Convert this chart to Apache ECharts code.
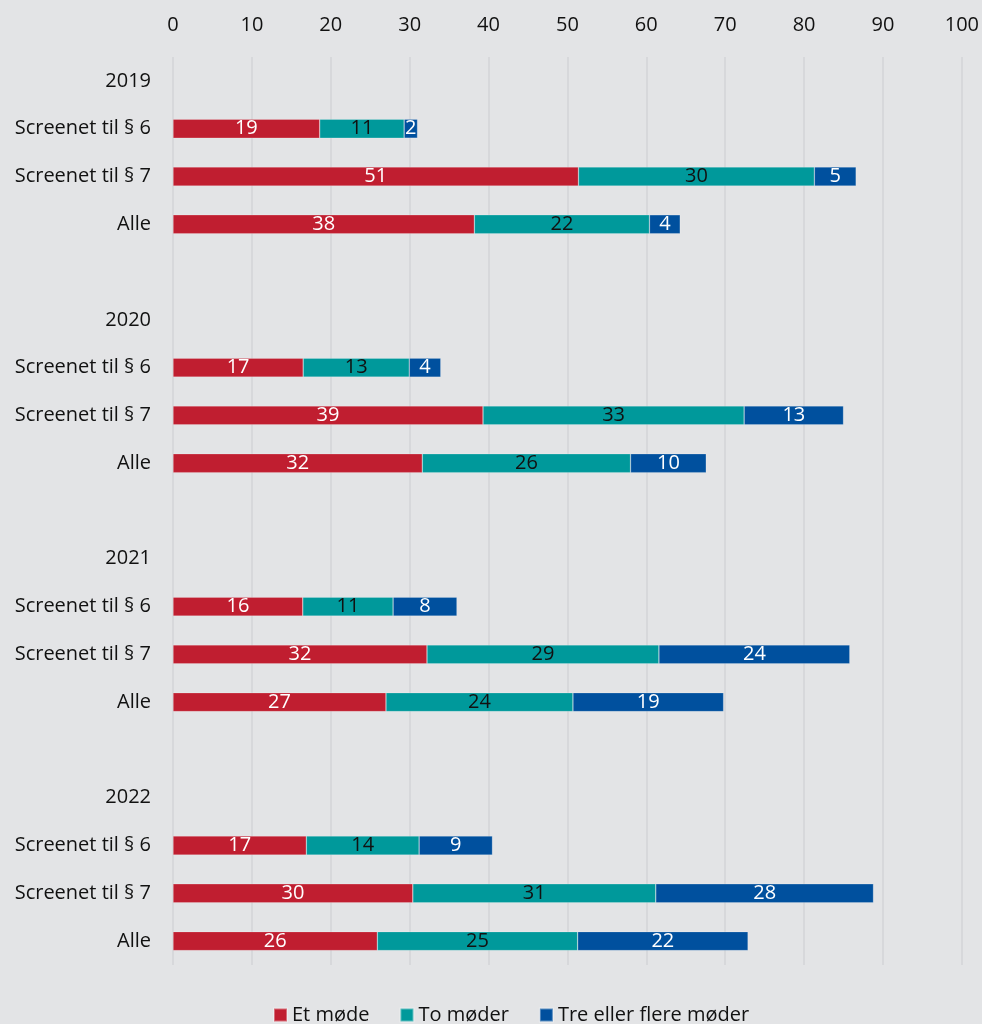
<!DOCTYPE html>
<html>
<head>
<meta charset="utf-8">
<script src="https://cdn.jsdelivr.net/npm/echarts@6/dist/echarts.min.js"></script>
<style>
html,body{margin:0;padding:0;background:#e3e4e6;}
#c{width:982px;height:1024px;}
</style>
</head>
<body>
<div id="c"></div>
<script>
const categories = ['2019','Screenet til § 6','Screenet til § 7','Alle','',
                    '2020','Screenet til § 6','Screenet til § 7','Alle','',
                    '2021','Screenet til § 6','Screenet til § 7','Alle','',
                    '2022','Screenet til § 6','Screenet til § 7','Alle'];
const seriesNames = ['Et møde','To møder','Tre eller flere møder'];
const etMode   = [null,18.6,51.4,38.2,null, null,16.5,39.3,31.6,null, null,16.45,32.2,27.0,null, null,16.9,30.4,25.9];
const toModer  = [null,10.7,29.9,22.2,null, null,13.45,33.1,26.4,null, null,11.45,29.4,23.7,null, null,14.3,30.8,25.4];
const treModer = [null,1.7,5.3,3.9,null,   null,4.0,12.6,9.6,null,   null,8.1,24.2,19.1,null,  null,9.3,27.6,21.6];
const xTicks = {min:0, max:100, interval:10};

const colors = ['#c01e30','#00999b','#00509e'];
const labelColors = ['#ffffff','#111111','#ffffff'];
const FONT = 'Open Sans';

const chart = echarts.init(document.getElementById('c'));
const mk = (name, data, i) => ({
  name, type:'bar', stack:'total', data, barWidth:19,
  itemStyle:{color:colors[i], borderColor:'rgba(255,255,255,0.35)', borderWidth:0.6},
  label:{show:true, position:'inside', color:labelColors[i], fontFamily:FONT, fontSize:20,
    formatter:p => (p.value==null ? '' : String(Math.round(p.value)))},
  emphasis:{disabled:true}
});
chart.setOption({
  backgroundColor:'#e3e4e6',
  animation:false,
  textStyle:{fontFamily:FONT},
  grid:{left:173, right:19, top:57, bottom:59},
  legend:{bottom:-6, left:268, itemWidth:13, itemHeight:13, itemGap:30, icon:'rect',
    textStyle:{fontFamily:FONT, fontSize:20, color:'#111'}, data:seriesNames},
  xAxis:{type:'value', position:'top', min:xTicks.min, max:xTicks.max, interval:xTicks.interval,
    axisLine:{show:false}, axisTick:{show:false},
    splitLine:{lineStyle:{color:'#d3d4d7', width:1.5}},
    axisLabel:{fontFamily:FONT, fontSize:20, color:'#111', margin:22}},
  yAxis:{type:'category', inverse:true, data:categories,
    axisLine:{show:false}, axisTick:{show:false},
    axisLabel:{fontFamily:FONT, fontSize:20, color:'#111', margin:22}},
  series:[mk(seriesNames[0], etMode, 0), mk(seriesNames[1], toModer, 1), mk(seriesNames[2], treModer, 2)]
});
</script>
</body>
</html>
